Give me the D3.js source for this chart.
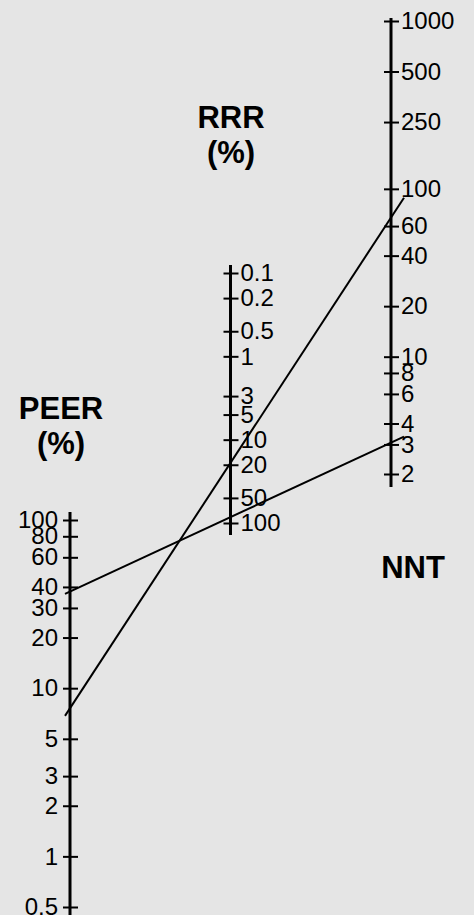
<!DOCTYPE html>
<html>
<head>
<meta charset="utf-8">
<script src="https://cdn.jsdelivr.net/npm/d3@7"></script>
<style>
  html, body { margin: 0; padding: 0; background: #e5e5e5; }
  svg { display: block; }
  text { font-family: "Liberation Sans", Arial, sans-serif; fill: #000; }
</style>
</head>
<body>
<div id="nomogram"></div>
<script>
// ----------------
// NNT nomogram data
// ----------------
const axisNames = ["PEER", "RRR", "NNT"];
const peerTicks = [100, 80, 60, 40, 30, 20, 10, 5, 3, 2, 1, 0.5];
const rrrTicks = [0.1, 0.2, 0.5, 1, 3, 5, 10, 20, 50, 100];
const nntTicks = [1000, 500, 250, 100, 60, 40, 20, 10, 8, 6, 4, 3, 2];
// two example lines: PEER value and RRR value they pass through
const linePeer = [37.5, 7.6];
const lineRrr = [85, 19];

const width = 474,
    height = 915;

const svg = d3.select("#nomogram")
    .append("svg")
    .attr("width", width)
    .attr("height", height);

// x position of each vertical scale
const x = d3.scalePoint()
    .domain(axisNames)
    .range([70, 391]);

// the three log scales
const yPeer = d3.scaleLog().domain([0.5, 100]).range([907, 520]);
const yRrr = d3.scaleLog().domain([0.1, 100]).range([273, 523]);
const yNnt = d3.scaleLog().domain([2, 1000]).range([474, 21]);

// draw one vertical scale with cross ticks
function drawScale(name, scale, ticks, side, top, bottom) {
    const g = svg.append("g")
        .attr("transform", `translate(${x(name)},0)`);

    g.append("line")
        .attr("x1", 0).attr("x2", 0)
        .attr("y1", top).attr("y2", bottom)
        .attr("stroke", "#000")
        .attr("stroke-width", 3);

    const axis = (side === "left" ? d3.axisLeft(scale) : d3.axisRight(scale))
        .tickValues(ticks)
        .tickFormat(d => d)
        .tickSizeOuter(0)
        .tickSizeInner(7)
        .tickPadding(4);

    const ag = g.append("g").call(axis);
    ag.select(".domain").remove();
    ag.selectAll(".tick line")
        .attr("x1", -7)
        .attr("x2", 8)
        .attr("stroke", "#000")
        .attr("stroke-width", 2);
    ag.selectAll(".tick text")
        .attr("x", side === "left" ? -12 : 10)
        .attr("dy", "0.32em")
        .style("font-family", "'Liberation Sans', Arial, sans-serif")
        .style("font-size", "24px")
        .attr("fill", "#000");
}

drawScale("PEER", yPeer, peerTicks, "left", 512, 915);
drawScale("RRR", yRrr, rrrTicks, "right", 265, 535);
drawScale("NNT", yNnt, nntTicks, "right", 18, 487);

// titles
const titles = [
    { lines: ["PEER", "(%)"], x: 61, y: 419 },
    { lines: ["RRR", "(%)"], x: 231, y: 128 },
    { lines: ["NNT"], x: 413, y: 578 }
];
titles.forEach(t => {
    svg.append("text")
        .attr("text-anchor", "middle")
        .style("font-size", "31px")
        .style("font-weight", "bold")
        .selectAll("tspan")
        .data(t.lines)
        .join("tspan")
        .attr("x", t.x)
        .attr("y", (d, i) => t.y + i * 35)
        .text(d => d);
});

// example lines through PEER and RRR, extended past the NNT scale
const x0 = x("PEER"), x1 = x("RRR");
const startX = x0 - 5, endX = x("NNT") + 13;
linePeer.forEach((p, i) => {
    const ya = yPeer(p), yb = yRrr(lineRrr[i]);
    const slope = (yb - ya) / (x1 - x0);
    svg.append("line")
        .attr("x1", startX)
        .attr("y1", ya + slope * (startX - x0))
        .attr("x2", endX)
        .attr("y2", ya + slope * (endX - x0))
        .attr("stroke", "#000")
        .attr("stroke-width", 2);
});
</script>
</body>
</html>
